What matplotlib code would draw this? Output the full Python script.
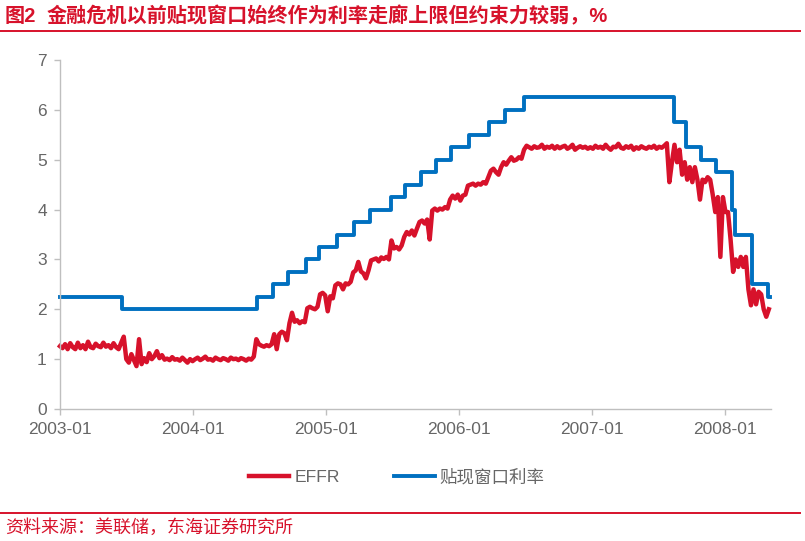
import numpy as np
import pandas as pd
import matplotlib
matplotlib.use('Agg')
import matplotlib.pyplot as plt

plt.rcParams['font.family'] = ['Liberation Sans', 'Noto Sans CJK SC', 'DejaVu Sans']

RED = '#D7122B'
BLUE = '#0070C0'
GREY = '#666666'

# EFFR, una lectura por semana desde 2003-01-01
effr_2003 = [1.26, 1.22, 1.30, 1.20, 1.32, 1.24, 1.20, 1.33, 1.22, 1.28, 1.20, 1.35, 1.24,
             1.22, 1.31, 1.26, 1.24, 1.33, 1.25, 1.28, 1.22, 1.32, 1.24, 1.20, 1.33, 1.45,
             1.00, 0.93, 1.10, 0.98, 0.86, 1.40, 0.90, 1.02, 0.94, 1.12, 1.00, 1.06, 1.16,
             1.02, 1.08, 0.99, 1.01, 0.98, 1.04, 0.99, 1.00, 0.97, 1.03, 0.98, 0.93, 1.00]
effr_2004 = [0.96, 1.00, 1.03, 0.98, 1.01, 1.05, 0.99, 1.00, 0.97, 1.03, 1.00, 0.98, 1.02,
             1.00, 0.97, 1.03, 1.00, 1.01, 0.98, 1.02, 1.00, 0.97, 1.01, 0.99, 1.05, 1.40,
             1.30, 1.27, 1.25, 1.28, 1.26, 1.30, 1.50, 1.20, 1.50, 1.55, 1.52, 1.38, 1.72,
             1.93, 1.75, 1.78, 1.72, 1.76, 1.74, 2.02, 2.05, 2.02, 2.00, 2.05, 2.30, 2.33]
effr_2005 = [2.28, 1.96, 2.26, 2.22, 2.48, 2.52, 2.50, 2.40, 2.52, 2.50, 2.55, 2.74, 2.78,
             2.95, 2.76, 2.72, 2.62, 2.78, 2.98, 3.00, 3.02, 2.96, 3.04, 3.01, 3.05, 3.00,
             3.38, 3.22, 3.25, 3.20, 3.28, 3.45, 3.55, 3.50, 3.58, 3.48, 3.62, 3.75, 3.78,
             3.72, 3.80, 3.40, 3.98, 4.02, 3.98, 4.02, 4.00, 4.05, 4.02, 4.20, 4.28, 4.22]
effr_2006 = [4.30, 4.18, 4.28, 4.30, 4.48, 4.50, 4.52, 4.48, 4.52, 4.50, 4.55, 4.52, 4.65,
             4.78, 4.82, 4.75, 4.70, 4.85, 4.95, 4.90, 4.98, 5.05, 4.98, 5.00, 5.05, 5.02,
             5.20, 5.28, 5.25, 5.22, 5.27, 5.24, 5.25, 5.30, 5.22, 5.26, 5.24, 5.28, 5.22,
             5.27, 5.23, 5.26, 5.28, 5.22, 5.25, 5.30, 5.20, 5.24, 5.27, 5.24, 5.26, 5.22]
effr_2007 = [5.25, 5.22, 5.28, 5.24, 5.26, 5.22, 5.30, 5.24, 5.20, 5.26, 5.25, 5.32, 5.24,
             5.22, 5.27, 5.24, 5.28, 5.20, 5.25, 5.22, 5.27, 5.24, 5.22, 5.26, 5.24, 5.28,
             5.22, 5.26, 5.24, 5.28, 5.33, 4.55, 4.95, 5.30, 4.95, 5.20, 4.70, 4.95, 4.60,
             4.85, 4.55, 4.85, 4.60, 4.20, 4.60, 4.55, 4.65, 4.60, 4.30, 3.95, 4.25, 3.05]
effr_2008 = [4.25, 3.95, 3.95, 3.40, 2.75, 3.00, 2.85, 3.05, 2.85, 3.05, 2.40, 2.08, 2.40,
             2.10, 2.35, 2.30, 2.00, 1.85, 2.00]

# tipo de descuento, fecha de cada cambio
rate_dates = ['2003-01-01', '2003-06-19', '2004-06-26', '2004-08-07', '2004-09-18', '2004-11-07',
              '2004-12-11', '2005-01-30', '2005-03-19', '2005-04-30', '2005-06-27', '2005-08-06',
              '2005-09-17', '2005-10-29', '2005-12-10', '2006-01-28', '2006-03-25', '2006-05-07',
              '2006-06-28', '2007-08-13', '2007-09-15', '2007-10-28', '2007-12-08', '2008-01-19',
              '2008-01-27', '2008-03-15', '2008-03-16', '2008-04-29', '2008-05-03']
rate_values = [2.25, 2.00, 2.25, 2.50, 2.75, 3.00, 3.25, 3.50, 3.75, 4.00, 4.25, 4.50, 4.75,
               5.00, 5.25, 5.50, 5.75, 6.00, 6.25, 5.75, 5.25, 5.00, 4.75, 4.00, 3.50, 3.25,
               2.50, 2.25, 2.25]

tick_labels = ['2003-01', '2004-01', '2005-01', '2006-01', '2007-01', '2008-01']

effr = effr_2003 + effr_2004 + effr_2005 + effr_2006 + effr_2007 + effr_2008
effr_dates = pd.date_range('2003-01-01', periods=len(effr), freq='7D')

W, H = 805, 541
fig = plt.figure(figsize=(W / 100, H / 100), dpi=100)
ax = fig.add_axes([60 / W, 1 - 409 / H, (771 - 60) / W, (409 - 60) / H])

ax.plot(effr_dates, effr, color=RED, lw=3.2, solid_joinstyle='round', label='EFFR', clip_on=False)
ax.plot(pd.to_datetime(rate_dates), rate_values, color=BLUE, lw=2.8, drawstyle='steps-post',
        solid_joinstyle='round', label='贴现窗口利率', clip_on=False)

ax.set_xlim(pd.Timestamp('2003-01-01'), pd.Timestamp('2008-05-06'))
ax.set_ylim(0, 7)
ax.set_xticks(pd.to_datetime([t + '-01' for t in tick_labels]))
ax.set_xticklabels(tick_labels)
ax.set_yticks(range(8))
ax.tick_params(colors='#BFBFBF', labelcolor=GREY, labelsize=12.5, length=4.5, width=1)
ax.tick_params(axis='x', pad=5)
ax.tick_params(axis='y', pad=5)
ax.spines[['top', 'right']].set_visible(False)
ax.spines[['left', 'bottom']].set_color('#BFBFBF')
ax.spines[['left', 'bottom']].set_linewidth(1)

fig.legend(loc='center', bbox_to_anchor=(397 / W, 1 - 477 / H), ncol=2, frameon=False, fontsize=12.6,
           labelcolor=GREY, handlelength=2.3, handletextpad=0.3, columnspacing=3.1)

fig.text(5 / W, 1 - 16 / H, '图2', color=RED, fontsize=14.5, fontweight='bold', va='center')
fig.text(47 / W, 1 - 16 / H, '金融危机以前贴现窗口始终作为利率走廊上限但约束力较弱，%', color=RED,
         fontsize=14.5, fontweight='bold', va='center')
fig.text(5 / W, 1 - 528 / H, '资料来源：美联储，东海证券研究所', color=RED, fontsize=13, va='center')

fig.add_artist(plt.Line2D([0, 800 / W], [1 - 31 / H] * 2, color=RED, lw=1.4))
fig.add_artist(plt.Line2D([0, 800 / W], [1 - 513 / H] * 2, color=RED, lw=1.4))

fig.savefig('out.png', dpi=100)
